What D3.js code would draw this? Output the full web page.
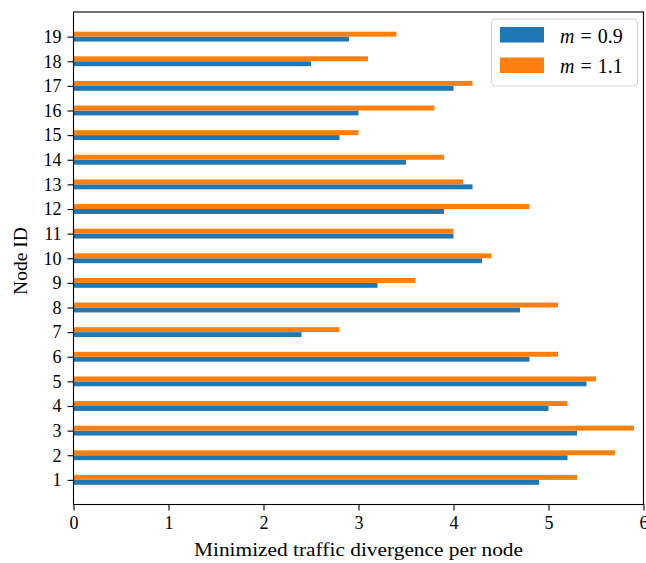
<!DOCTYPE html>
<html><head><meta charset="utf-8">
<script src="https://cdn.jsdelivr.net/npm/d3@7"></script>
<style>
body{margin:0;background:#fff;}
svg text{font-family:"Liberation Serif","DejaVu Serif",serif;fill:#000;}
</style></head>
<body><svg id="c" width="646" height="563"></svg>
<script>
const nodeIds = [1,2,3,4,5,6,7,8,9,10,11,12,13,14,15,16,17,18,19];
const m09 = [4.9,5.2,5.3,5.0,5.4,4.8,2.4,4.7,3.2,4.3,4.0,3.9,4.2,3.5,2.8,3.0,4.0,2.5,2.9];
const m11 = [5.3,5.7,5.9,5.2,5.5,5.1,2.8,5.1,3.6,4.4,4.0,4.8,4.1,3.9,3.0,3.8,4.2,3.1,3.4];
const seriesNames = ["0.9","1.1"];
const xTicks = [0,1,2,3,4,5,6];
const colors = ["#1f77b4","#ff7f0e"];

const svg = d3.select("#c");
const L=73.5, R=643.5, T=12, B=504.5;
const x = d3.scaleLinear().domain([0,6]).range([L,R]);
const y = d3.scaleLinear().domain([0,20]).range([B,T]);
const bh = (y(0)-y(0.2));

const series=[m09,m11];
series.forEach((vals,si)=>{
  svg.append("g").selectAll("rect").data(vals).join("rect")
    .attr("x",x(0))
    .attr("y",(d,i)=> si===0 ? y(nodeIds[i]) : y(nodeIds[i]+0.2))
    .attr("width",d=>x(d)-x(0))
    .attr("height",bh)
    .attr("fill",colors[si]);
});

const xAxis = d3.axisBottom(x).tickValues(xTicks).tickFormat(d3.format("d")).tickSize(6).tickPadding(6);
const gx = svg.append("g").attr("transform",`translate(0,${B})`).call(xAxis);
const yAxis = d3.axisLeft(y).tickValues(nodeIds).tickFormat(d3.format("d")).tickSize(6).tickPadding(6);
const gy = svg.append("g").attr("transform",`translate(${L},0)`).call(yAxis);
[gx,gy].forEach(g=>{
  g.select(".domain").remove();
  g.selectAll(".tick line").attr("stroke","#000").attr("stroke-width",1.1);
  g.selectAll(".tick text").attr("font-size",18).attr("font-family","Liberation Serif");
});
svg.append("rect").attr("x",L).attr("y",T).attr("width",R-L).attr("height",B-T)
  .attr("fill","none").attr("stroke","#000").attr("stroke-width",1.1);

svg.append("text").attr("x",(L+R)/2).attr("y",556).attr("text-anchor","middle")
  .attr("font-size",18.5).attr("textLength",329).attr("lengthAdjust","spacingAndGlyphs")
  .text("Minimized traffic divergence per node");
svg.append("text").attr("transform",`translate(27,261) rotate(-90)`).attr("text-anchor","middle")
  .attr("font-size",18).attr("textLength",68).attr("lengthAdjust","spacingAndGlyphs").text("Node ID");

const lg = svg.append("g");
lg.append("rect").attr("x",491.5).attr("y",19).attr("width",146).attr("height",67).attr("rx",4)
  .attr("fill","#fff").attr("fill-opacity",0.8).attr("stroke","#d0d0d0").attr("stroke-width",1);
seriesNames.forEach((s,i)=>{
  const yy = 27 + i*30.5;
  lg.append("rect").attr("x",500).attr("y",yy).attr("width",44).attr("height",15.5).attr("fill",colors[i]);
  const t = lg.append("text").attr("x",560).attr("y",yy+15.5).attr("font-size",20);
  t.append("tspan").attr("font-style","italic").text("m");
  t.append("tspan").attr("dx",6).text("=");
  t.append("tspan").attr("dx",6).text(s);
});
</script></body></html>
